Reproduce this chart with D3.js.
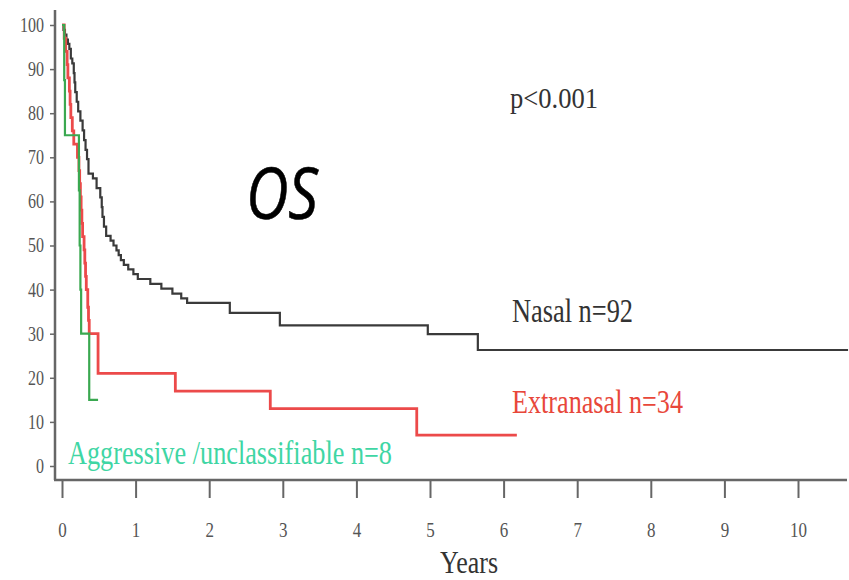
<!DOCTYPE html>
<html>
<head>
<meta charset="utf-8">
<script src="https://cdn.jsdelivr.net/npm/d3@7"></script>
<style>
  body { margin: 0; background: #fff; }
  svg { display: block; }
</style>
</head>
<body>
<svg width="849" height="580"></svg>
<script>
// survival curves, [years, percent surviving]
var nasal = [
  [0, 100], [0.02, 98.9], [0.04, 97.8], [0.06, 96.7], [0.08, 95.7], [0.10, 94.6],
  [0.12, 92.4], [0.14, 91.3], [0.16, 89.1], [0.17, 87], [0.18, 84.8], [0.20, 82.6],
  [0.22, 80.4], [0.25, 78.3], [0.28, 76.1], [0.30, 73.9], [0.32, 71.7], [0.34, 69.6],
  [0.36, 66.3], [0.42, 65.2], [0.47, 63], [0.52, 60.9], [0.54, 58.7], [0.55, 56.5],
  [0.57, 54.3], [0.60, 52.2], [0.66, 51.1], [0.70, 50], [0.74, 48.9], [0.77, 47.8],
  [0.80, 46.7], [0.84, 45.6], [0.90, 44.6], [0.97, 43.5], [1.03, 42.4], [1.20, 41.3],
  [1.35, 40.2], [1.50, 39.1], [1.62, 38], [1.70, 37], [2.28, 34.7], [2.96, 31.9],
  [4.97, 29.9], [5.65, 26.3], [10.68, 26.3]
];
var extranasal = [
  [0, 100], [0.03, 97], [0.05, 94], [0.07, 91], [0.08, 88], [0.10, 85], [0.11, 82],
  [0.12, 79], [0.14, 76], [0.16, 73], [0.21, 70], [0.23, 67], [0.24, 64], [0.25, 61],
  [0.26, 58], [0.27, 55], [0.28, 52], [0.30, 49], [0.31, 46], [0.32, 43], [0.33, 40],
  [0.35, 36], [0.36, 33], [0.37, 30], [0.49, 21], [1.54, 17], [2.83, 13], [4.82, 7],
  [6.18, 7]
];
var aggressive = [
  [0, 100], [0.03, 87.5], [0.04, 75], [0.23, 62.5], [0.24, 50], [0.25, 40],
  [0.26, 30], [0.37, 15], [0.49, 15]
];

var xTicks = [0, 1, 2, 3, 4, 5, 6, 7, 8, 9, 10];
var yTicks = [0, 10, 20, 30, 40, 50, 60, 70, 80, 90, 100];

var svg = d3.select("svg");
var serif = "'Liberation Serif', 'Times New Roman', serif";

var x = d3.scaleLinear().domain([0, 10]).range([62, 798]);
var y = d3.scaleLinear().domain([0, 100]).range([466, 25]);

var axisColor = "#666";

// y axis
var yAxis = d3.axisLeft(y).tickValues(yTicks).tickSize(5).tickSizeOuter(0).tickPadding(6);
var gy = svg.append("g")
    .attr("transform", "translate(55,0)")
    .call(yAxis);
gy.select(".domain").remove();
gy.selectAll(".tick line").attr("stroke", axisColor).attr("stroke-width", 1.5);
gy.selectAll(".tick text")
    .attr("font-family", serif)
    .attr("font-size", 20)
    .attr("fill", "#555")
    .attr("textLength", d => String(d).length * 8)
    .attr("lengthAdjust", "spacingAndGlyphs");

svg.append("line")
    .attr("x1", 55).attr("x2", 55)
    .attr("y1", 10).attr("y2", 480)
    .attr("stroke", axisColor).attr("stroke-width", 2.5);

// x axis
var xAxis = d3.axisBottom(x).tickValues(xTicks).tickSize(18).tickSizeOuter(0).tickPadding(23);
var gx = svg.append("g")
    .attr("transform", "translate(0,480)")
    .call(xAxis);
gx.select(".domain").remove();
gx.selectAll(".tick line").attr("stroke", axisColor).attr("stroke-width", 2);
gx.selectAll(".tick text")
    .attr("font-family", serif)
    .attr("font-size", 22)
    .attr("fill", "#555")
    .attr("textLength", d => String(d).length * 8.5)
    .attr("lengthAdjust", "spacingAndGlyphs");

svg.append("line")
    .attr("x1", 54).attr("x2", 847)
    .attr("y1", 480).attr("y2", 480)
    .attr("stroke", axisColor).attr("stroke-width", 2.5);

// curves
var line = d3.line()
    .x(d => x(d[0]))
    .y(d => y(d[1]))
    .curve(d3.curveStepAfter);

svg.append("path").datum(nasal)
    .attr("d", line).attr("fill", "none")
    .attr("stroke", "#3a3a3a").attr("stroke-width", 2.2);

svg.append("path").datum(extranasal)
    .attr("d", line).attr("fill", "none")
    .attr("stroke", "#ec4a4a").attr("stroke-width", 2.8);

svg.append("path").datum(aggressive)
    .attr("d", line).attr("fill", "none")
    .attr("stroke", "#3aa850").attr("stroke-width", 2.2);

// labels
function label(txt, tx, ty, size, len, color) {
  return svg.append("text")
      .attr("x", tx).attr("y", ty)
      .attr("font-family", serif)
      .attr("font-size", size)
      .attr("fill", color)
      .attr("textLength", len)
      .attr("lengthAdjust", "spacingAndGlyphs")
      .text(txt);
}

label("p<0.001", 510, 108, 30, 88, "#333");
label("Nasal n=92", 512, 322, 33, 121, "#333");
label("Extranasal n=34", 512, 413, 33, 171, "#e8473a");
label("Aggressive /unclassifiable n=8", 68, 464, 33, 324, "#3fd6a4");
label("Years", 440, 573, 31, 58, "#333");

svg.append("text")
    .attr("x", 246).attr("y", 219)
    .attr("font-family", "'Open Sans', 'Liberation Sans', sans-serif")
    .attr("font-style", "italic")
    .attr("font-size", 72)
    .attr("fill", "#000")
    .attr("stroke", "#000")
    .attr("stroke-width", 0.6)
    .attr("textLength", 72)
    .attr("lengthAdjust", "spacingAndGlyphs")
    .text("OS");
</script>
</body>
</html>
